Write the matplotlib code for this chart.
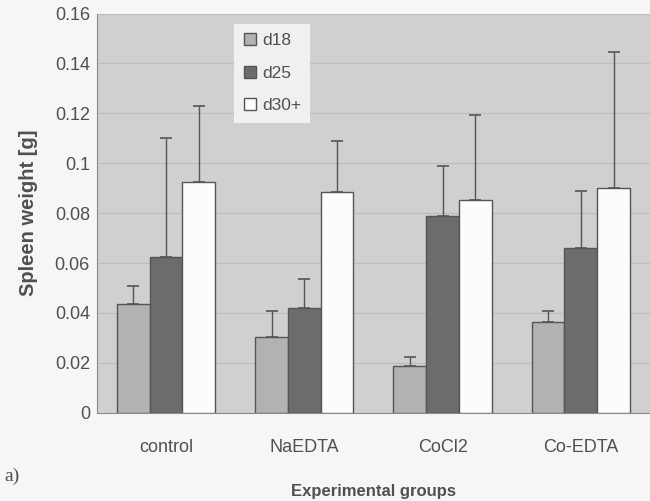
import numpy as np
import matplotlib.pyplot as plt

plt.rcParams['font.family'] = ['Liberation Sans', 'DejaVu Sans']

# values (spleen weight in g)
groups = ['control', 'NaEDTA', 'CoCl2', 'Co-EDTA']
series = ['d18', 'd25', 'd30+']
d18 = [0.0435, 0.0302, 0.0186, 0.0363]
d25 = [0.0625, 0.0419, 0.0790, 0.0660]
d30 = [0.0923, 0.0883, 0.0852, 0.0900]
d18_err = [0.0073, 0.0105, 0.0036, 0.0045]
d25_err = [0.0475, 0.0117, 0.0198, 0.0228]
d30_err = [0.0307, 0.0207, 0.0342, 0.0544]
y_ticks = [0, 0.02, 0.04, 0.06, 0.08, 0.1, 0.12, 0.14, 0.16]

colors = ['#b2b2b2', '#6c6c6c', '#fcfcfc']
edge = '#555555'
txt = '#505050'

fig = plt.figure(figsize=(6.5, 5.01), dpi=100, facecolor='#f6f6f6')
ax = fig.add_axes([0.149, 0.176, 0.851, 0.797])
ax.set_facecolor('#d0d0d0')

x = np.arange(len(groups))
w = 0.237
for i, (vals, errs) in enumerate(zip([d18, d25, d30], [d18_err, d25_err, d30_err])):
    pos = x + (i - 1) * w
    ax.bar(pos, vals, width=w, color=colors[i], edgecolor=edge, linewidth=1.0,
           label=series[i], zorder=3)
    ax.errorbar(pos, vals, yerr=[np.zeros(len(errs)), errs], fmt='none',
                ecolor=edge, elinewidth=1.0, capsize=4, capthick=1.2, zorder=2)

ax.set_xlim(-0.5, 3.5)
ax.set_ylim(0, 0.16)
ax.set_yticks(y_ticks)
ax.set_yticklabels(['0', '0.02', '0.04', '0.06', '0.08', '0.1', '0.12', '0.14', '0.16'])
ax.set_xticks(x)
ax.set_xticklabels(groups)
ax.tick_params(axis='y', length=0, pad=5, labelsize=13, labelcolor=txt)
ax.tick_params(axis='x', length=0, pad=19, labelsize=13, labelcolor=txt)
ax.yaxis.grid(True, color='#bdbdbd', linewidth=0.8, zorder=0)
ax.set_axisbelow(True)

for s in ['top', 'right']:
    ax.spines[s].set_visible(False)
ax.spines['left'].set_color('#8a8a8a')
ax.spines['bottom'].set_color('#8a8a8a')

ax.set_ylabel('Spleen weight [g]', fontsize=14.5, fontweight='bold', color=txt, labelpad=12)
ax.set_xlabel('Experimental groups', fontsize=12, fontweight='bold', color=txt, labelpad=20)

leg = ax.legend(loc='upper left', bbox_to_anchor=(0.36, 0.953), bbox_transform=fig.transFigure,
                fontsize=12.5, frameon=True, fancybox=False, handlelength=0.7, handleheight=0.7,
                handletextpad=0.35, labelspacing=1.0, borderpad=0.55, borderaxespad=0)
leg.get_frame().set_facecolor('#f0f0f0')
leg.get_frame().set_edgecolor('none')
leg.get_frame().set_alpha(1)
for t in leg.get_texts():
    t.set_color(txt)

fig.text(0.006, 0.04, 'a)', fontsize=14, family='Liberation Serif', color=txt)

fig.savefig('out.png', dpi=100, facecolor=fig.get_facecolor())
